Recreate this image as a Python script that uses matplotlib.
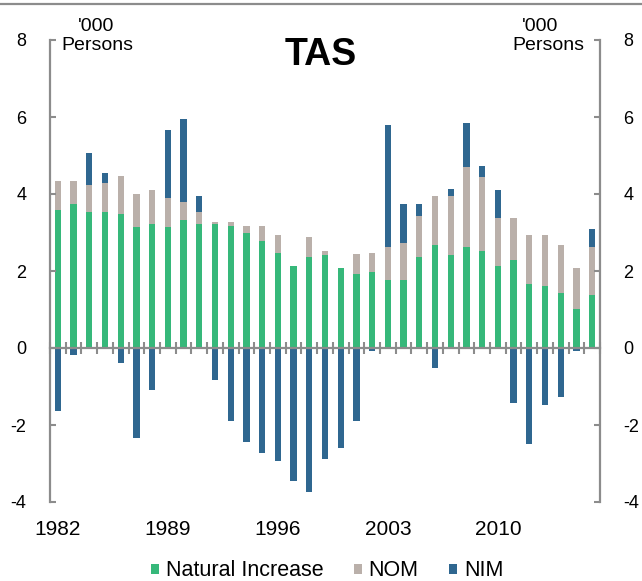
import numpy as np
import matplotlib
matplotlib.use("Agg")
import matplotlib.pyplot as plt
from matplotlib.lines import Line2D

plt.rcParams['font.family'] = ['Liberation Sans', 'DejaVu Sans']
plt.rcParams['axes.unicode_minus'] = False

# ---- data ('000 persons), 1982-2016 ----
years = list(range(1982, 2017))
natural_increase = [3.58, 3.73, 3.53, 3.53, 3.49, 3.13, 3.23, 3.13, 3.33, 3.23,
                    3.23, 3.18, 2.98, 2.78, 2.48, 2.13, 2.37, 2.42, 2.08, 1.93,
                    1.97, 1.77, 1.77, 2.37, 2.68, 2.42, 2.63, 2.53, 2.13, 2.28,
                    1.67, 1.62, 1.42, 1.02, 1.37]
nom = [0.76, 0.61, 0.71, 0.76, 0.99, 0.86, 0.87, 0.76, 0.45, 0.30,
       0.05, 0.10, 0.20, 0.40, 0.45, 0.00, 0.51, 0.11, 0.00, 0.50,
       0.51, 0.86, 0.96, 1.07, 1.26, 1.52, 2.06, 1.91, 1.25, 1.10,
       1.26, 1.31, 1.26, 1.06, 1.26]
nim = [-1.64, -0.18, 0.82, 0.26, -0.38, -2.35, -1.09, 1.76, 2.17, 0.41,
       -0.83, -1.89, -2.44, -2.74, -2.94, -3.45, -3.75, -2.89, -2.59, -1.89,
       -0.08, 3.17, 1.00, 0.29, -0.53, 0.20, 1.16, 0.30, 0.72, -1.44,
       -2.50, -1.49, -1.28, -0.08, 0.45]
year_labels = ['1982', '1989', '1996', '2003', '2010']
series_names = ['Natural Increase', 'NOM', 'NIM']

# ---- styling ----
c_nat = '#36b87a'
c_nom = '#bab0aa'
c_nim = '#2f6790'
c_axis = '#8c8c8c'
W, H = 642, 581

fig = plt.figure(figsize=(W / 100, H / 100), dpi=100)
ax = fig.add_axes([50 / W, 1 - 502 / H, 550 / W, 462 / H])

x = np.arange(len(years))
nat = np.array(natural_increase)
nm = np.array(nom)
ni = np.array(nim)
nim_bottom = np.where(ni >= 0, nat + nm, 0)

bw = 0.4
h1 = ax.bar(x, nat, bw, color=c_nat, label=series_names[0], zorder=1)
h2 = ax.bar(x, nm, bw, bottom=nat, color=c_nom, label=series_names[1], zorder=1)
h3 = ax.bar(x, ni, bw, bottom=nim_bottom, color=c_nim, label=series_names[2], zorder=1)

ax.set_xlim(-0.5, len(years) - 0.5)
ax.set_ylim(-4, 8)

# spines
ax.spines['top'].set_visible(False)
for s in ['left', 'right', 'bottom']:
    ax.spines[s].set_color(c_axis)
    ax.spines[s].set_linewidth(1.6)
ax.spines['bottom'].set_position(('data', 0))

# y axis on both sides
ax.set_yticks(np.arange(-4, 9, 2))
ax.tick_params(axis='y', which='both', direction='in', length=4, width=1.5,
               color=c_axis, labelsize=13, pad=17, left=True, right=True,
               labelleft=True, labelright=True)

# x ticks between categories on zero line
ax.set_xticks(np.arange(-0.5, len(years), 1))
ax.set_xticklabels([])
ax.tick_params(axis='x', direction='inout', length=8.5, width=1.5, color=c_axis)

# year labels at bottom
for lab in year_labels:
    ax.text(years.index(int(lab)), -0.0595, lab, transform=ax.get_xaxis_transform(),
            ha='center', va='center', fontsize=15)

# unit labels & title
fig.text(96 / W, 1 - 26.5 / H, "'000", ha='center', va='center', fontsize=14)
fig.text(97 / W, 1 - 45 / H, 'Persons', ha='center', va='center', fontsize=14)
fig.text(540 / W, 1 - 26.5 / H, "'000", ha='center', va='center', fontsize=14)
fig.text(548 / W, 1 - 45 / H, 'Persons', ha='center', va='center', fontsize=14)
fig.text(321 / W, 1 - 55 / H, 'TAS', ha='center', va='center', fontsize=27,
         fontweight='bold')

# top rule
fig.add_artist(Line2D([0, 1], [1 - 4 / H, 1 - 4 / H], color=c_axis, lw=1.6,
                      transform=fig.transFigure))

fig.legend(handles=[h1, h2, h3], loc='center', bbox_to_anchor=(327 / W, 1 - 571 / H),
           ncol=3, frameon=False, fontsize=15.5, handlelength=0.37, handleheight=0.37,
           handletextpad=0.33, columnspacing=1.4, borderaxespad=0, borderpad=0)

fig.savefig('out.png', dpi=100)
